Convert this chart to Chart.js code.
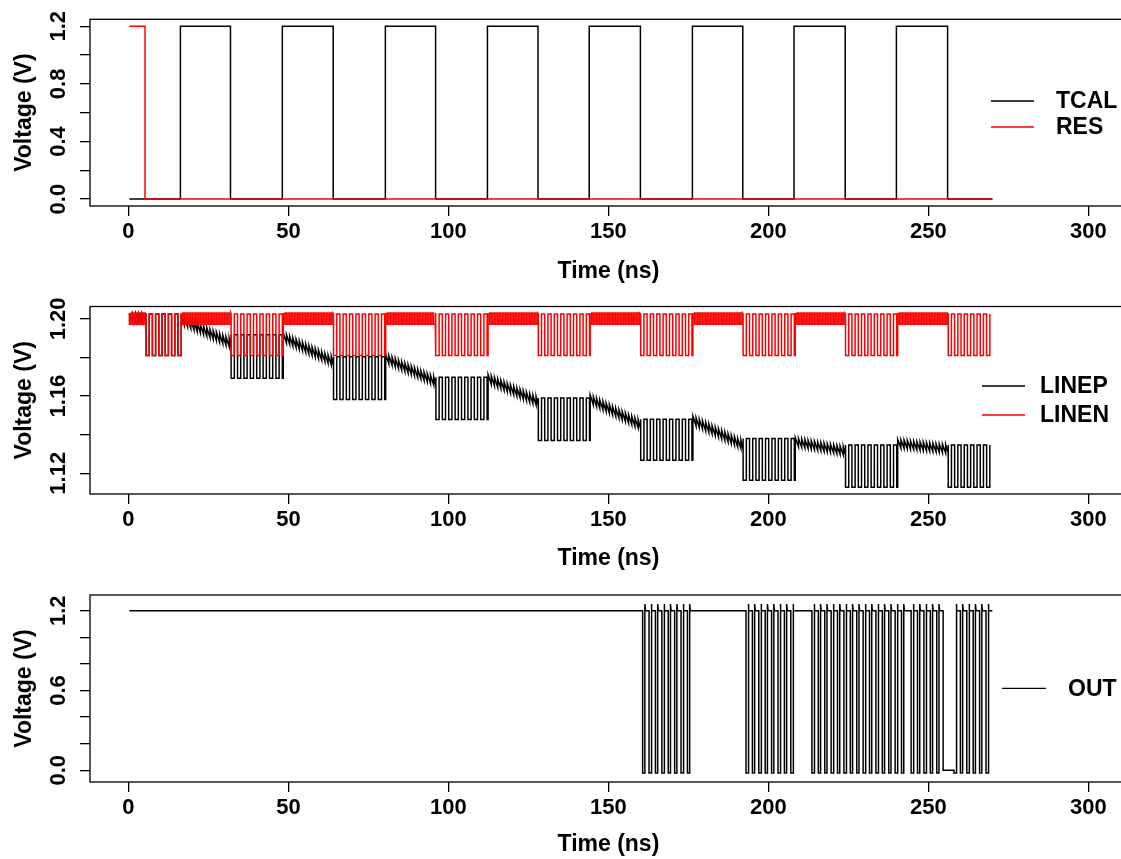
<!DOCTYPE html>
<html>
<head>
<meta charset="utf-8">
<script src="https://cdn.jsdelivr.net/npm/chart.js@4.4.0/dist/chart.umd.min.js"></script>
<style>
  html, body { margin: 0; padding: 0; background: #fff; overflow: hidden; width: 1121px; height: 859px; }
  canvas { position: absolute; left: 0; }
</style>
</head>
<body>
<canvas id="p1" width="1130" height="286" style="top:0px"></canvas>
<canvas id="p2" width="1130" height="287" style="top:286px"></canvas>
<canvas id="p3" width="1130" height="286" style="top:573px"></canvas>
<script>
// ---------- data (times in ns, levels in V) ----------
const xTicks = [0, 50, 100, 150, 200, 250, 300];
const tStart = 0.3, tStop = 270;

// panel 1: TCAL pulses and RES
const tcalRise = [16.25, 48.1, 80.3, 112.2, 144.0, 176.25, 208.0, 240.0];
const tcalFall = [31.9, 64.0, 96.0, 128.0, 160.0, 192.0, 224.0, 256.0];
const resFall = 5.2;
const y1Ticks = [0, 0.2, 0.4, 0.6, 0.8, 1.0, 1.2];
const y1Labels = ['0.0', '', '0.4', '', '0.8', '', '1.2'];

// panel 2: LINEP / LINEN, comparator bursts while TCAL is low
const burstStart = [5.5, 32.1, 64.1, 96.1, 128.1, 160.1, 192.1, 224.1, 256.2];
const burstEnd = [16.5, 48.4, 80.4, 112.4, 144.3, 176.4, 208.4, 240.4, 270.0];
const linepBurstHi = [1.2025, 1.1917, 1.1804, 1.1697, 1.1590, 1.1480, 1.1380, 1.1346, 1.1346];
const linepBurstLo = [1.1810, 1.1692, 1.1582, 1.1478, 1.1370, 1.1267, 1.1164, 1.1128, 1.1128];
const linepRampFrom = [1.2005, 1.1995, 1.1905, 1.1796, 1.1690, 1.1584, 1.1475, 1.1362, 1.1354];
const linepRampTo = [1.2005, 1.1873, 1.1778, 1.1674, 1.1570, 1.1450, 1.1345, 1.1315, 1.1325];
const linenBurstHi = 1.2025, linenBurstLo = 1.1810;
const linenIdleHi = 1.2030, linenIdleLo = 1.1972;
const clkPeriod = 2.0, ripplePeriod = 1.0, rippleAmp = 0.0022;
const y2Ticks = [1.12, 1.14, 1.16, 1.18, 1.20];
const y2Labels = ['1.12', '', '1.16', '', '1.20'];

// panel 3: OUT
const outBurstStart = [160.7, 193.0, 213.6, 244.6, 258.0];
const outBurstCount = [8, 8, 15, 5, 6];
const outEndsLow = [false, false, false, true, false];
const outIdle = 1.2, outPeak = 1.25, outFloor = -0.02, outLowTime = 0.7;
const y3Ticks = [0, 0.2, 0.4, 0.6, 0.8, 1.0, 1.2];
const y3Labels = ['0.0', '', '', '0.6', '', '', '1.2'];

// ---------- build point lists ----------
function squareRun(pts, s, e, hi, lo, period) {
  for (let t = s; t < e - 1e-9; t += period) {
    const m = Math.min(t + period / 2, e);
    pts.push({x: t, y: hi}, {x: t, y: lo}, {x: m, y: lo}, {x: m, y: hi});
  }
}
function sawRun(pts, s, e, from, to, period, amp) {
  for (let t = s; t < e - 1e-9; t += period) {
    const n = Math.min(t + period, e);
    pts.push({x: t, y: from + (to - from) * (t - s) / (e - s) + amp},
             {x: n, y: from + (to - from) * (n - s) / (e - s) - amp});
  }
}

const tcal = [{x: tStart, y: 0}];
tcalRise.forEach((r, i) => {
  tcal.push({x: r, y: 0}, {x: r, y: 1.2}, {x: tcalFall[i], y: 1.2}, {x: tcalFall[i], y: 0});
});
tcal.push({x: tStop, y: 0});
const res = [{x: tStart, y: 1.2}, {x: resFall, y: 1.2}, {x: resFall, y: 0}, {x: tStop, y: 0}];

const linep = [], linen = [];
burstStart.forEach((bs, k) => {
  const rs = k === 0 ? tStart : burstEnd[k - 1];
  sawRun(linep, rs, bs, linepRampFrom[k], linepRampTo[k], ripplePeriod, rippleAmp);
  squareRun(linep, bs, burstEnd[k], linepBurstHi[k], linepBurstLo[k], clkPeriod);
  squareRun(linen, rs, bs, linenIdleHi, linenIdleLo, ripplePeriod);
  squareRun(linen, bs, burstEnd[k], linenBurstHi, linenBurstLo, clkPeriod);
});

const out = [{x: tStart, y: outIdle}];
let outLevel = outIdle;
outBurstStart.forEach((s, k) => {
  for (let i = 0; i < outBurstCount[k]; i++) {
    const t = s + i * clkPeriod;
    out.push({x: t, y: outLevel}, {x: t, y: outFloor},
             {x: t + outLowTime, y: outFloor}, {x: t + outLowTime, y: outPeak},
             {x: t + outLowTime + 0.2, y: outIdle});
    outLevel = outIdle;
  }
  if (outEndsLow[k]) {
    const te = s + outBurstCount[k] * clkPeriod;
    out.push({x: te, y: outIdle}, {x: te, y: 0});
    outLevel = 0;
  }
});
out.push({x: tStop, y: outLevel});

// ---------- chart helpers ----------
const FONT = '"Liberation Sans", Arial, Helvetica, sans-serif';
Chart.defaults.font.family = FONT;
Chart.defaults.font.weight = 'bold';
Chart.defaults.color = '#000';
const TICK_SIZE = 22, TITLE_SIZE = 23;

const mctx = document.createElement('canvas').getContext('2d');
function textWidth(s, size) {
  mctx.font = 'bold ' + size + 'px ' + FONT;
  return mctx.measureText(s).width;
}

const frame = {
  id: 'frame',
  afterDraw(chart, args, opts) {
    const {ctx, chartArea: a} = chart;
    ctx.save();
    ctx.strokeStyle = '#000';
    ctx.lineWidth = 1.3;
    ctx.strokeRect(a.left, a.top, a.right - a.left, a.bottom - a.top);
    ctx.font = 'bold ' + TITLE_SIZE + 'px ' + FONT;
    ctx.textBaseline = 'middle';
    ctx.textAlign = 'left';
    (opts.items || []).forEach(it => {
      ctx.strokeStyle = it.color;
      ctx.beginPath();
      ctx.moveTo(opts.x0, it.y);
      ctx.lineTo(opts.x1, it.y);
      ctx.stroke();
      ctx.fillStyle = '#000';
      ctx.fillText(it.label, opts.tx, it.y + 1);
    });
    ctx.restore();
  }
};

function makeChart(id, cfg) {
  const canvas = document.getElementById(id);
  const H = canvas.height;
  const widest = Math.max(...cfg.yLabels.map(l => textWidth(l, TICK_SIZE)));
  new Chart(canvas, {
    type: 'line',
    data: {
      datasets: cfg.series.map(s => ({
        label: s.label, data: s.data, borderColor: s.color, order: s.order,
        borderWidth: 1.5, pointRadius: 0, tension: 0, fill: false
      }))
    },
    options: {
      responsive: false,
      animation: false,
      normalized: true,
      events: [],
      layout: {autoPadding: false, padding: {top: cfg.boxTop, right: 1130 - 1126.8, left: 0, bottom: 0}},
      plugins: {legend: {display: false}, tooltip: {enabled: false},
                frame: {items: cfg.legend, x0: cfg.legX0, x1: cfg.legX1, tx: cfg.legTx}},
      scales: {
        x: {
          type: 'linear', min: -12, max: 312,
          afterBuildTicks: s => { s.ticks = xTicks.map(v => ({value: v})); },
          afterFit: s => { s.height = H - cfg.boxBottom; },
          ticks: {autoSkip: false, maxRotation: 0, padding: 3, color: '#000',
                  font: {size: TICK_SIZE, weight: 'bold'}},
          grid: {drawOnChartArea: false, tickLength: 10, color: '#000', lineWidth: 1.3},
          border: {display: false},
          title: {display: true, text: 'Time (ns)', color: '#000',
                  font: {size: TITLE_SIZE, weight: 'bold'}, padding: {top: 0, bottom: 1}}
        },
        y: {
          type: 'linear', min: cfg.yMin, max: cfg.yMax,
          afterBuildTicks: s => { s.ticks = cfg.yTicks.map(v => ({value: v})); },
          afterFit: s => { s.width = 90; },
          ticks: {autoSkip: false, minRotation: 90, maxRotation: 90, crossAlign: 'center',
                  padding: 80 - 59 - widest / 2, color: '#000',
                  font: {size: TICK_SIZE, weight: 'bold'},
                  callback: (v, i) => cfg.yLabels[i]},
          grid: {drawOnChartArea: false, tickLength: 10, color: '#000', lineWidth: 1.3},
          border: {display: false},
          title: {display: true, text: 'Voltage (V)', color: '#000',
                  font: {size: TITLE_SIZE, weight: 'bold'}, padding: {top: 11, bottom: 0}}
        }
      }
    },
    plugins: [frame]
  });
}

makeChart('p1', {
  boxTop: 19.3, boxBottom: 206, yMin: -0.048, yMax: 1.248, yTicks: y1Ticks, yLabels: y1Labels,
  series: [{label: 'TCAL', data: tcal, color: '#000000', order: 1},
           {label: 'RES', data: res, color: '#ff0000', order: 0}],
  legend: [{label: 'TCAL', color: '#000000', y: 101}, {label: 'RES', color: '#ff0000', y: 127}],
  legX0: 991, legX1: 1034, legTx: 1056
});
makeChart('p2', {
  boxTop: 20.5, boxBottom: 208, yMin: 1.10927, yMax: 1.20638, yTicks: y2Ticks, yLabels: y2Labels,
  series: [{label: 'LINEP', data: linep, color: '#000000', order: 1},
           {label: 'LINEN', data: linen, color: '#ff0000', order: 0}],
  legend: [{label: 'LINEP', color: '#000000', y: 100}, {label: 'LINEN', color: '#ff0000', y: 129}],
  legX0: 982, legX1: 1025, legTx: 1040
});
makeChart('p3', {
  boxTop: 22, boxBottom: 209, yMin: -0.088, yMax: 1.318, yTicks: y3Ticks, yLabels: y3Labels,
  series: [{label: 'OUT', data: out, color: '#000000', order: 0}],
  legend: [{label: 'OUT', color: '#000000', y: 115.3}],
  legX0: 1002, legX1: 1046, legTx: 1068
});
</script>
</body>
</html>
